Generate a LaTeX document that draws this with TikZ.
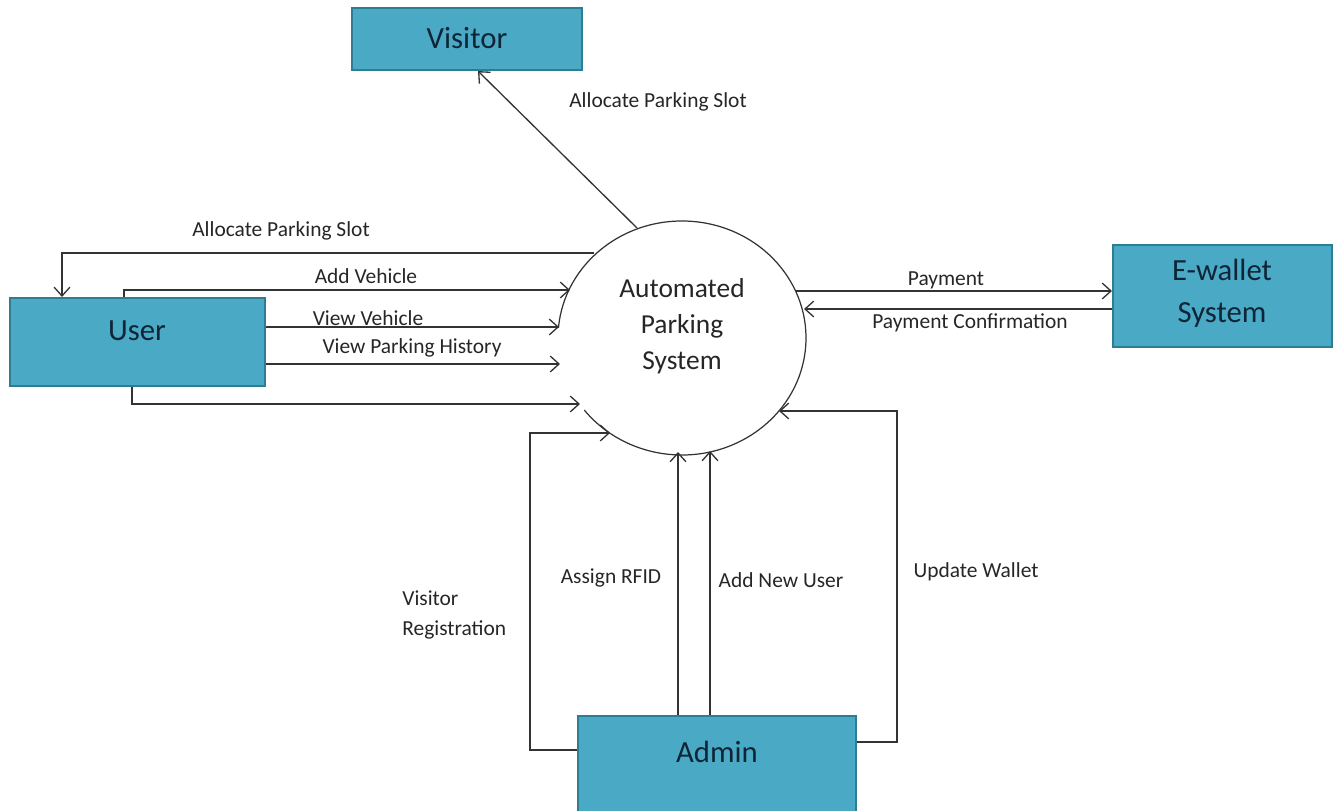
\documentclass[tikz,border=0pt]{standalone}
\usepackage{fontspec}
\setmainfont{Carlito}
\usetikzlibrary{arrows.meta}
\definecolor{boxfill}{HTML}{4AAAC5}
\definecolor{boxedge}{HTML}{2E7D92}
\definecolor{boxtext}{HTML}{0F2537}
\definecolor{linec}{HTML}{333333}
\definecolor{lblc}{HTML}{262626}
\begin{document}
\begin{tikzpicture}[x=0.02cm,y=-0.02cm,
  entity/.style={draw=boxedge, fill=boxfill, line width=1.2pt, inner sep=0pt},
  etext/.style={text=boxtext, font=\fontsize{17.5}{23.8}\selectfont, align=center, inner sep=0pt},
  ctext/.style={text=lblc, font=\fontsize{15.6}{20.4}\selectfont, align=center, inner sep=0pt},
  flow/.style={draw=linec, line width=0.75pt, -{Straight Barb[length=5pt,width=9pt]}},
  lbl/.style={text=lblc, font=\fontsize{12.2}{17}\selectfont, inner sep=0pt}]
\useasboundingbox (0,0) rectangle (1333,811);

% external entities
\node[entity, minimum width=4.6cm, minimum height=1.24cm] (visitor) at (467,39) {};
\node[etext] (visitorlbl) at (467,38) {Visitor};
\node[entity, minimum width=5.1cm, minimum height=1.76cm] (user) at (137.5,342) {};
\node[etext] (userlbl) at (137,331) {User};
\node[entity, minimum width=4.38cm, minimum height=2.04cm] (ewallet) at (1222.5,296) {};
\node[etext] (ewalletlbl) at (1222,293) {E-wallet\\System};
\node[entity, minimum width=5.56cm, minimum height=2.08cm] (admin) at (717,768) {};
\node[etext] (adminlbl) at (717,752) {Admin};

% process
\node[ctext] (aps) at (682,326) {Automated\\Parking\\System};
\draw[linec, line width=0.7pt] ([shift={(185:124 and 117)}]682,338) arc[start angle=185, end angle=502, x radius=124, y radius=117];

% contact points on the process boundary
\coordinate (pVis) at (637,228);
\coordinate (pAllocU) at (594,253);
\coordinate (pAddV) at (570,290);
\coordinate (pViewV) at (559,327);
\coordinate (pHist) at (560,364);
\coordinate (pBottom) at (580,404);
\coordinate (pVReg) at (610,433);
\coordinate (pRFID) at (678,452);
\coordinate (pNewU) at (710,451);
\coordinate (pWallet) at (779,411);
\coordinate (pPay) at (796,291);
\coordinate (pConf) at (804,309);

% flows
\draw[flow] (pVis) -- (478,0 |- visitor.south);
\draw[flow] (pAllocU) -| (62,0 |- user.north);
\draw[flow] (124,0 |- user.north) |- (pAddV);
\draw[flow] (user.east |- 0,327) -- (pViewV);
\draw[flow] (user.east |- 0,364) -- (pHist);
\draw[flow] (132,0 |- user.south) |- (pBottom);
\draw[flow] (admin.west |- 0,750) -| (530,433) -- (pVReg);
\draw[flow] (678,0 |- admin.north) -- (pRFID);
\draw[flow] (710,0 |- admin.north) -- (pNewU);
\draw[flow] (admin.east |- 0,742) -| (897,411) -- (pWallet);
\draw[flow] (pPay) -- (ewallet.west |- 0,291);
\draw[flow] (ewallet.west |- 0,309) -- (pConf);

% labels
\node[lbl] (l1) at (658,102) {Allocate Parking Slot};
\node[lbl] (l2) at (281,231) {Allocate Parking Slot};
\node[lbl] (l3) at (366,276) {Add Vehicle};
\node[lbl] (l4) at (368,318) {View Vehicle};
\node[lbl] (l5) at (412,348) {View Parking History};
\node[lbl] (l6) at (946,280) {Payment};
\node[lbl] (l7) at (970,323) {Payment Confirmation};
\node[lbl] (l8) at (611,578) {Assign RFID};
\node[lbl] (l9) at (781,580) {Add New User};
\node[lbl] (l10) at (976,572) {Update Wallet};
\node[lbl, align=left, anchor=west, font=\fontsize{12.2}{17}\selectfont] (l11) at (402,615) {Visitor\\Registration};
\end{tikzpicture}
\end{document}
